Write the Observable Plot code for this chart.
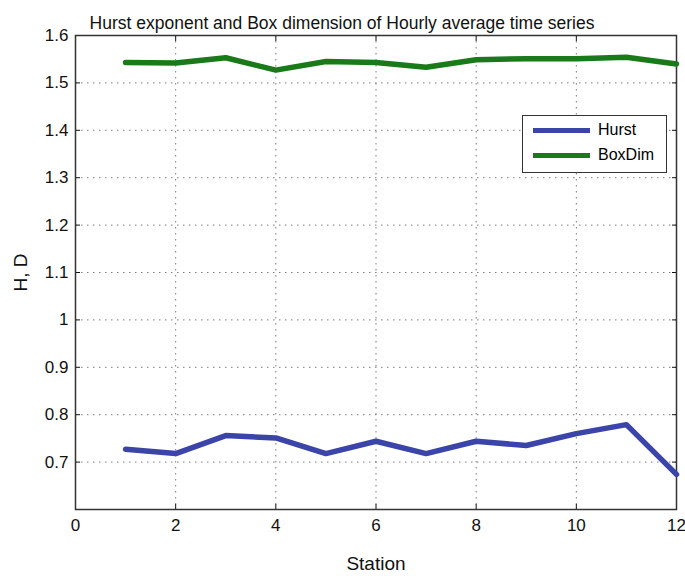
<!DOCTYPE html>
<html><head><meta charset="utf-8">
<script src="https://cdn.jsdelivr.net/npm/d3@7"></script>
<script src="https://cdn.jsdelivr.net/npm/@observablehq/plot@0.6"></script>
<style>
body{margin:0;background:#fff;}
#wrap{position:relative;width:685px;height:576px;font-family:"Liberation Sans",Arial,sans-serif;}
#legend{position:absolute;left:522px;top:115px;width:145px;height:58px;border:1.5px solid #333;background:#fff;box-sizing:border-box;font-size:16px;}
#legend .row{position:absolute;left:10px;display:flex;align-items:center;}
#legend .sw{width:57px;height:5px;margin-right:8px;}
</style></head>
<body><div id="wrap"></div>
<script>
const stations = [1,2,3,4,5,6,7,8,9,10,11,12];
const hurst = [0.727,0.718,0.756,0.751,0.718,0.744,0.718,0.744,0.735,0.760,0.779,0.674];
const boxDim = [1.543,1.542,1.553,1.527,1.545,1.543,1.533,1.549,1.551,1.551,1.554,1.540];
const xTicks = [0,2,4,6,8,10,12];
const yTicks = [0.7,0.8,0.9,1,1.1,1.2,1.3,1.4,1.5,1.6];
const title = "Hurst exponent and Box dimension of Hourly average time series";
const seriesNames = ["Hurst","BoxDim"];
const colors = ["#3b44a8","#1a7a1a"];

const data = stations.flatMap((s,i)=>[
  {station:s, value:hurst[i], series:"Hurst"},
  {station:s, value:boxDim[i], series:"BoxDim"}
]);

const chart = Plot.plot({
  width:685, height:576,
  marginLeft:75, marginRight:9, marginTop:35, marginBottom:67,
  style:{fontFamily:'"Liberation Sans",Arial,sans-serif', fontSize:"16px", color:"#111"},
  x:{domain:[0,12]},
  y:{domain:[0.6,1.6]},
  color:{domain:seriesNames, range:colors},
  marks:[
    Plot.gridX(xTicks.slice(1,-1), {stroke:"#444", strokeOpacity:0.7, strokeDasharray:"1.5,4.5"}),
    Plot.gridY(yTicks.slice(0,-1), {stroke:"#444", strokeOpacity:0.7, strokeDasharray:"1.5,4.5"}),
    Plot.axisX(xTicks, {tickSize:-5, tickPadding:14, fontSize:17, label:"Station", labelAnchor:"center", labelOffset:60, labelArrow:"none", tickFormat:d=>d}),
    Plot.axisX(xTicks, {anchor:"top", tickSize:-5, tickFormat:()=>"", label:null}),
    Plot.axisY(yTicks, {tickSize:-5, tickPadding:12, fontSize:17, label:"H, D", labelAnchor:"center", labelOffset:62, labelArrow:"none", tickFormat:d=>String(d)}),
    Plot.axisY(yTicks, {anchor:"right", tickSize:-5, tickFormat:()=>"", label:null}),
    Plot.frame({stroke:"#333", strokeWidth:1.5}),
    Plot.line(data, {x:"station", y:"value", z:"series", stroke:"series", strokeWidth:5.5, strokeLinejoin:"round"}),
    Plot.text([title], {text:d=>d, frameAnchor:"top", dx:-34, dy:-19, fontSize:17.5, fill:"#111"})
  ]
});
const wrap = document.getElementById("wrap");
wrap.appendChild(chart);
d3.select(chart).selectAll("[aria-label='x-axis label'] text, [aria-label='y-axis label'] text").style("font-size","19px");

const lg = document.createElement("div");
lg.id="legend";
seriesNames.forEach((n,i)=>{
  const r=document.createElement("div");
  r.className="row"; r.style.top=(i===0?5:30)+"px";
  r.innerHTML=`<span class="sw" style="background:${colors[i]}"></span><span>${n}</span>`;
  lg.appendChild(r);
});
wrap.appendChild(lg);
</script></body></html>
